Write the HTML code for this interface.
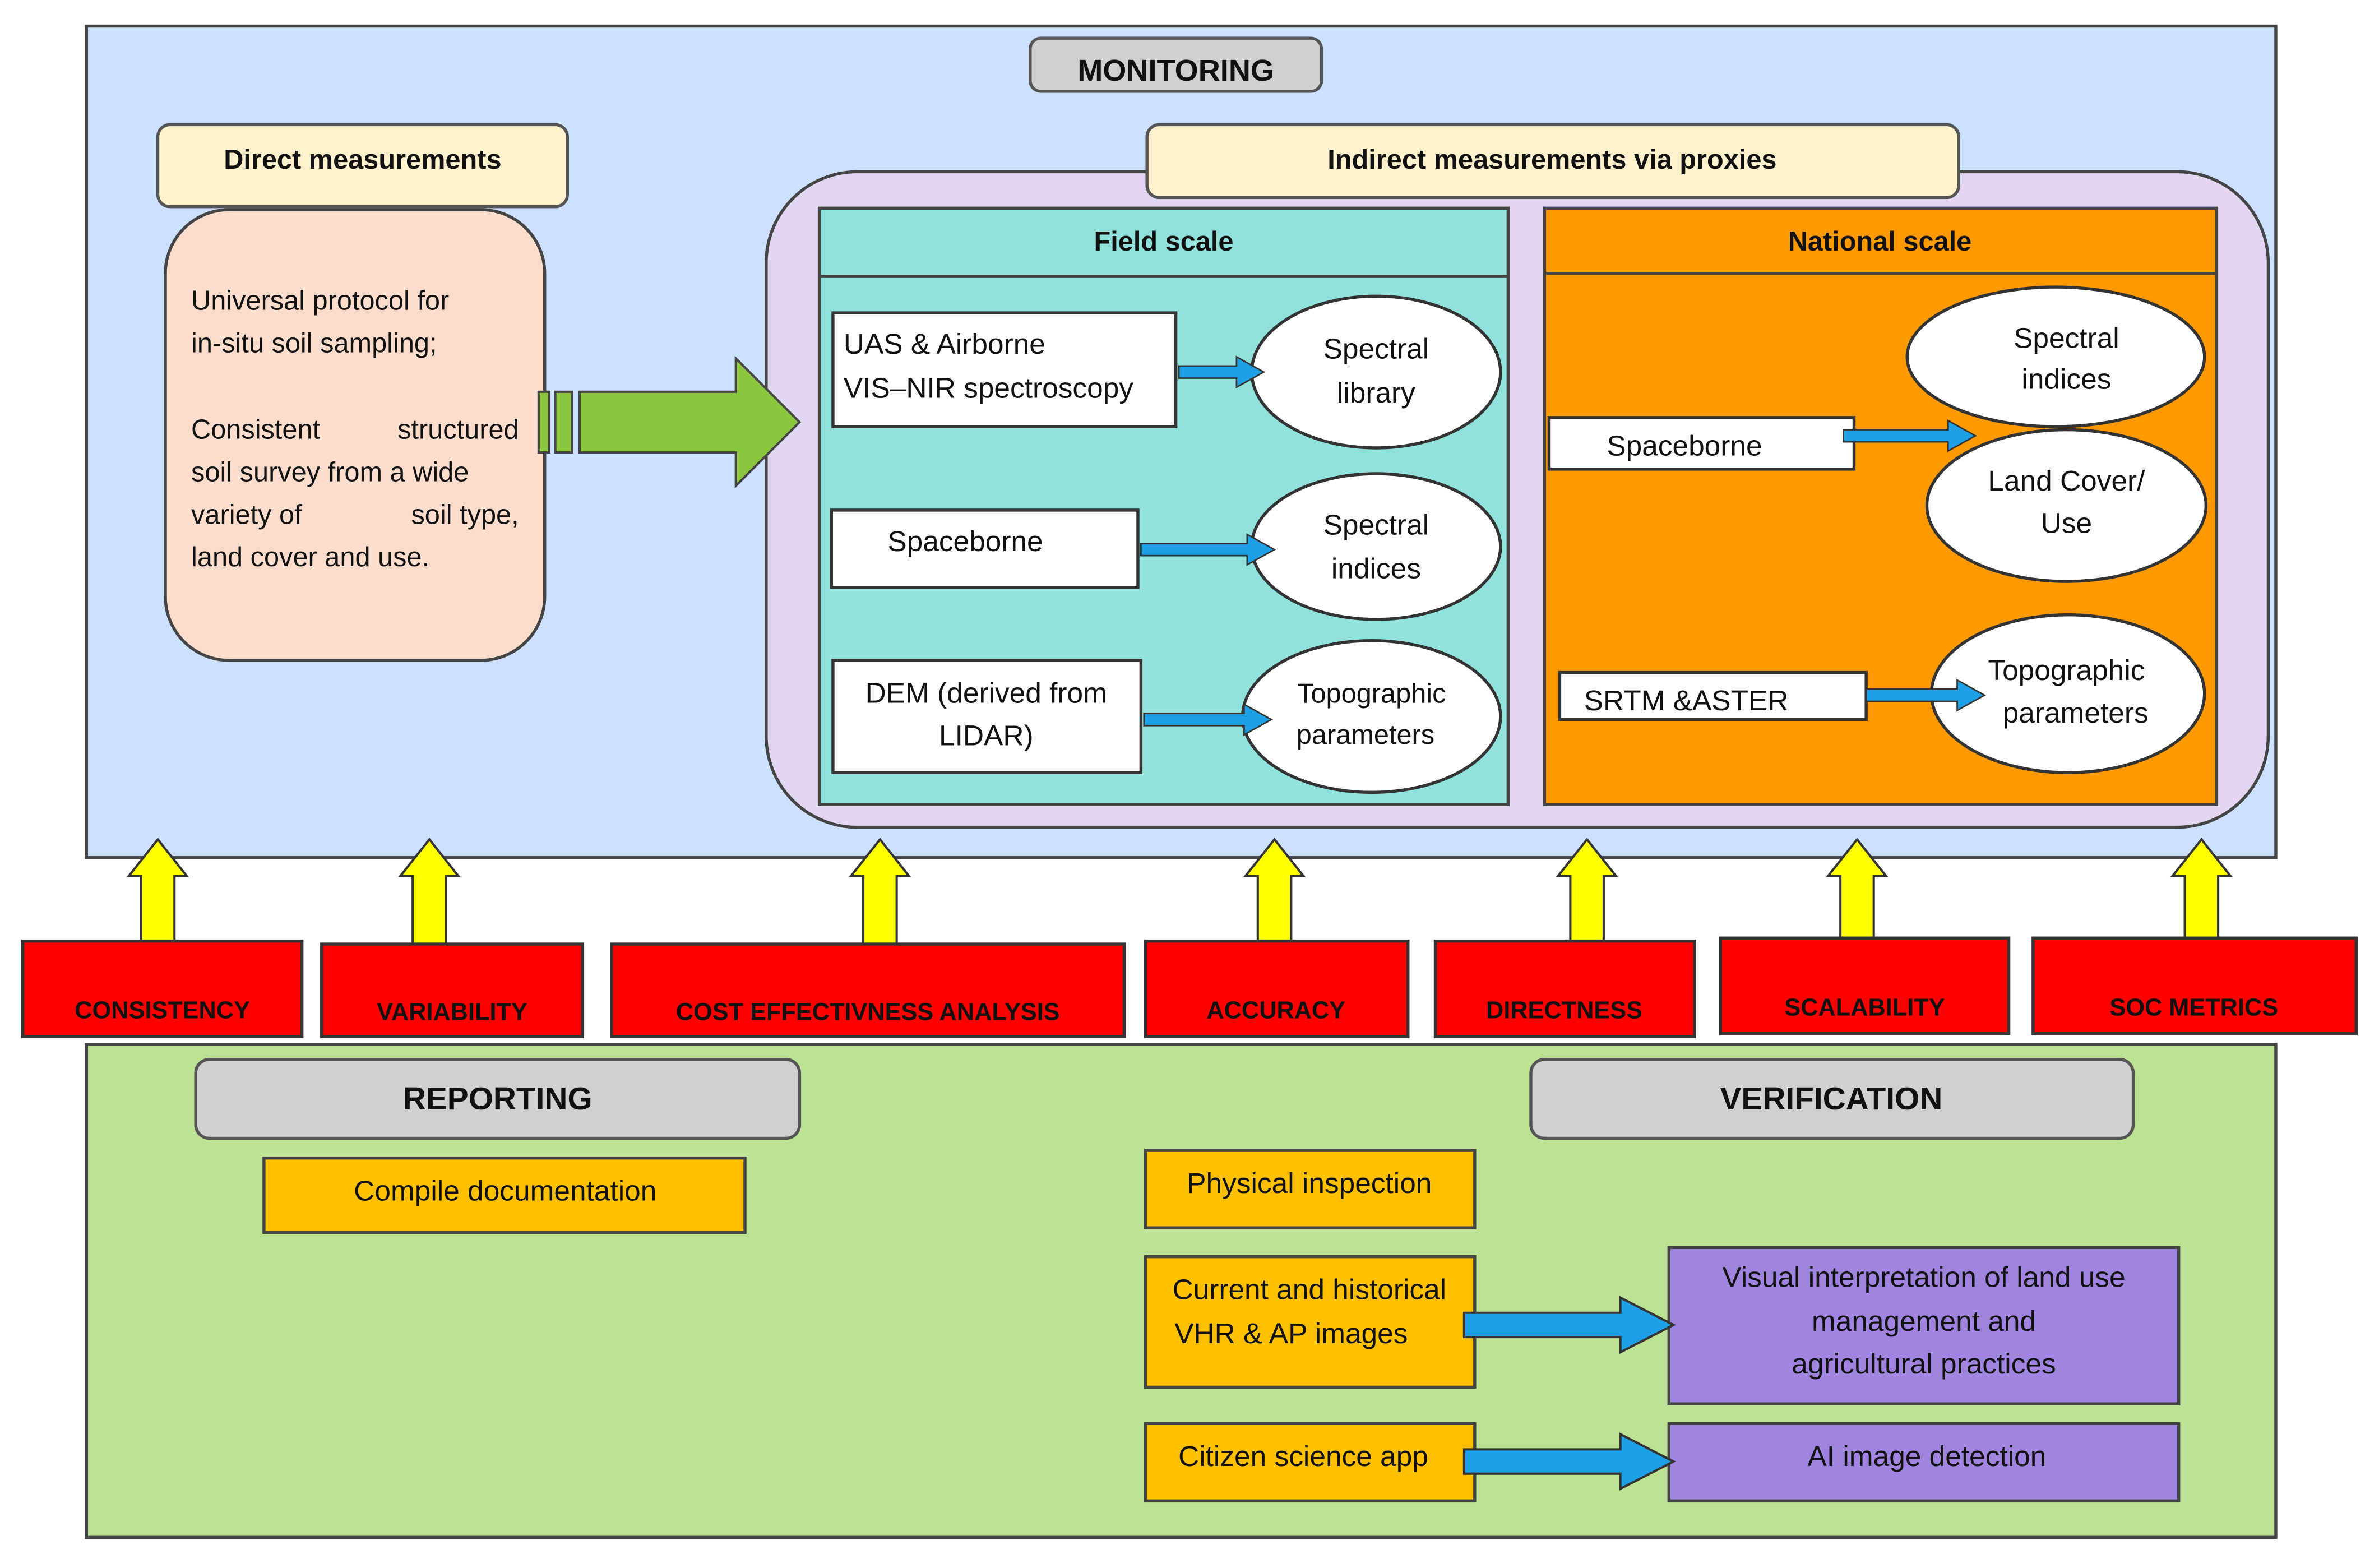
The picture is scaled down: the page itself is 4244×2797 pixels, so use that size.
<!DOCTYPE html>
<html><head><meta charset="utf-8"><style>
html,body{margin:0;padding:0;background:#fff;}
svg{display:block;}
text{font-family:"Liberation Sans",sans-serif;fill:#111;}
.b{font-weight:bold;}
</style></head><body>
<svg width="4244" height="2797" viewBox="0 0 1568 1033" xmlns="http://www.w3.org/2000/svg">
<defs>
<g id="ya"><polygon points="-11,0 11,0 11,-46 19,-46 0,-70 -19,-46 -11,-46" fill="#ffff00" stroke="#333" stroke-width="1.5"/></g>
</defs>
<rect x="57" y="17" width="1443" height="548" fill="#cce0ff" stroke="#444" stroke-width="2"/>
<rect x="679" y="25" width="192" height="35" rx="7" fill="#d0d0d0" stroke="#555" stroke-width="2"/>
<text x="775" y="53" font-size="20" text-anchor="middle" class="b">MONITORING</text>

<rect x="104" y="82" width="270" height="54" rx="8" fill="#fff2cc" stroke="#555" stroke-width="2"/>
<text x="239" y="111" font-size="18" text-anchor="middle" class="b">Direct measurements</text>
<rect x="109" y="138" width="250" height="297" rx="42" fill="#fcdccb" stroke="#444" stroke-width="2"/>
<g font-size="18">
<text x="126" y="204">Universal protocol for</text>
<text x="126" y="232">in-situ soil sampling;</text>
<text x="126" y="289">Consistent</text><text x="342" y="289" text-anchor="end">structured</text>
<text x="126" y="317">soil survey from a wide</text>
<text x="126" y="345">variety of</text><text x="342" y="345" text-anchor="end">soil type,</text>
<text x="126" y="373">land cover and use.</text>
</g>

<rect x="505" y="113" width="990" height="432" rx="60" fill="#e2d6f0" stroke="#444" stroke-width="2"/>
<rect x="756" y="82" width="535" height="48" rx="8" fill="#fff2cc" stroke="#555" stroke-width="2"/>
<text x="1023" y="111" font-size="18" text-anchor="middle" class="b">Indirect measurements via proxies</text>

<rect x="355" y="258" width="7" height="40" fill="#8cc63f" stroke="#444" stroke-width="1.5"/>
<rect x="366" y="258" width="11" height="40" fill="#8cc63f" stroke="#444" stroke-width="1.5"/>
<polygon points="382,258 485,258 485,236 527,278 485,320 485,298 382,298" fill="#8cc63f" stroke="#444" stroke-width="1.5"/>

<rect x="540" y="137" width="454" height="393" fill="#92e2dc" stroke="#444" stroke-width="2"/>
<line x1="540" y1="182" x2="994" y2="182" stroke="#444" stroke-width="2"/>
<text x="767" y="165" font-size="18" text-anchor="middle" class="b">Field scale</text>
<rect x="1018" y="137" width="443" height="393" fill="#ff9900" stroke="#444" stroke-width="2"/>
<line x1="1018" y1="180" x2="1461" y2="180" stroke="#444" stroke-width="2"/>
<text x="1239" y="165" font-size="18" text-anchor="middle" class="b">National scale</text>

<g fill="#fff" stroke="#333" stroke-width="2">
<rect x="549" y="206" width="226" height="75"/>
<rect x="548" y="336" width="202" height="51"/>
<rect x="549" y="435" width="203" height="74"/>
<ellipse cx="907" cy="245" rx="82" ry="50"/>
<ellipse cx="907" cy="360" rx="82" ry="48"/>
<ellipse cx="904" cy="472" rx="85" ry="50"/>
<ellipse cx="1355" cy="235" rx="98" ry="46"/>
<ellipse cx="1362" cy="333" rx="92" ry="50"/>
<rect x="1021" y="275" width="201" height="34"/>
<rect x="1028" y="443" width="202" height="31"/>
<ellipse cx="1363" cy="457" rx="90" ry="52"/>
</g>
<g font-size="19">
<text x="556" y="233">UAS &amp; Airborne</text>
<text x="556" y="262">VIS–NIR spectroscopy</text>
<text x="585" y="363">Spaceborne</text>
<text x="650" y="463" text-anchor="middle">DEM (derived from</text>
<text x="650" y="491" text-anchor="middle">LIDAR)</text>
<text x="907" y="236" text-anchor="middle">Spectral</text>
<text x="907" y="265" text-anchor="middle">library</text>
<text x="907" y="352" text-anchor="middle">Spectral</text>
<text x="907" y="381" text-anchor="middle">indices</text>
<text x="1362" y="229" text-anchor="middle">Spectral</text>
<text x="1362" y="256" text-anchor="middle">indices</text>
<text x="1362" y="323" text-anchor="middle">Land Cover/</text>
<text x="1362" y="351" text-anchor="middle">Use</text>
<text x="1059" y="300">Spaceborne</text>
<text x="1044" y="468">SRTM &amp;ASTER</text>
<text x="1362" y="448" text-anchor="middle">Topographic</text>
<text x="1368" y="476" text-anchor="middle">parameters</text>
</g>
<g font-size="18">
<text x="904" y="463" text-anchor="middle">Topographic</text>
<text x="900" y="490" text-anchor="middle">parameters</text>
</g>
<g fill="#1ea0e6" stroke="#333" stroke-width="1">
<polygon points="777,241 815,241 815,235 833,245 815,255 815,249 777,249"/>
<polygon points="752,358 822,358 822,352 840,362 822,372 822,366 752,366"/>
<polygon points="754,470 820,470 820,464 838,474 820,484 820,478 754,478"/>
<polygon points="1215,283 1284,283 1284,277 1302,287 1284,297 1284,291 1215,291"/>
<polygon points="1230,454 1290,454 1290,448 1308,458 1290,468 1290,462 1230,462"/>
</g>

<use href="#ya" x="104" y="623"/><use href="#ya" x="283" y="623"/><use href="#ya" x="580" y="623"/>
<use href="#ya" x="840" y="623"/><use href="#ya" x="1046" y="623"/><use href="#ya" x="1224" y="623"/>
<use href="#ya" x="1451" y="623"/>

<g fill="#ff0000" stroke="#333" stroke-width="2">
<rect x="15" y="620" width="184" height="63"/>
<rect x="212" y="622" width="172" height="61"/>
<rect x="403" y="622" width="338" height="61"/>
<rect x="755" y="620" width="173" height="63"/>
<rect x="946" y="620" width="171" height="63"/>
<rect x="1134" y="618" width="190" height="63"/>
<rect x="1340" y="618" width="213" height="63"/>
</g>
<g font-size="16" class="b" text-anchor="middle">
<text x="107" y="671" class="b">CONSISTENCY</text>
<text x="298" y="672" class="b">VARIABILITY</text>
<text x="572" y="672" class="b">COST EFFECTIVNESS ANALYSIS</text>
<text x="841" y="671" class="b">ACCURACY</text>
<text x="1031" y="671" class="b">DIRECTNESS</text>
<text x="1229" y="669" class="b">SCALABILITY</text>
<text x="1446" y="669" class="b">SOC METRICS</text>
</g>

<rect x="57" y="688" width="1443" height="325" fill="#bde293" stroke="#444" stroke-width="2"/>
<rect x="129" y="698" width="398" height="52" rx="9" fill="#d0d0d0" stroke="#555" stroke-width="2"/>
<text x="328" y="731" font-size="21" text-anchor="middle" class="b">REPORTING</text>
<rect x="1009" y="698" width="397" height="52" rx="9" fill="#d0d0d0" stroke="#555" stroke-width="2"/>
<text x="1207" y="731" font-size="21" text-anchor="middle" class="b">VERIFICATION</text>

<g fill="#ffc000" stroke="#444" stroke-width="2">
<rect x="174" y="763" width="317" height="49"/>
<rect x="755" y="758" width="217" height="51"/>
<rect x="755" y="828" width="217" height="86"/>
<rect x="755" y="938" width="217" height="51"/>
</g>
<g fill="#a084e0" stroke="#444" stroke-width="2">
<rect x="1100" y="822" width="336" height="103"/>
<rect x="1100" y="938" width="336" height="51"/>
</g>
<g font-size="19" text-anchor="middle">
<text x="333" y="791">Compile documentation</text>
<text x="863" y="786">Physical inspection</text>
<text x="863" y="856">Current and historical</text>
<text x="851" y="885">VHR &amp; AP images</text>
<text x="859" y="966">Citizen science app</text>
<text x="1268" y="848">Visual interpretation of land use</text>
<text x="1268" y="877">management and</text>
<text x="1268" y="905">agricultural practices</text>
<text x="1270" y="966">AI image detection</text>
</g>
<g fill="#1ea0e6" stroke="#333" stroke-width="1.5">
<polygon points="965,865 1068,865 1068,855 1103,873 1068,891 1068,881 965,881"/>
<polygon points="965,955 1068,955 1068,945 1103,963 1068,981 1068,971 965,971"/>
</g>
</svg>
</body></html>
